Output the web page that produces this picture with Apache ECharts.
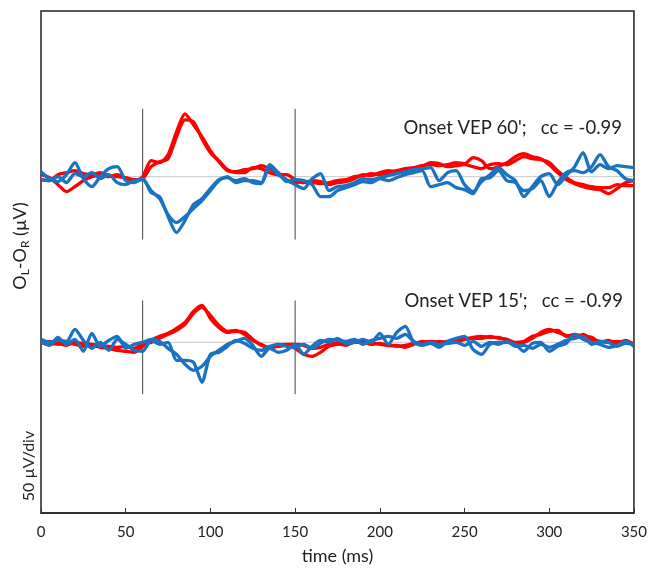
<!DOCTYPE html>
<html>
<head>
<meta charset="utf-8">
<script src="https://cdn.jsdelivr.net/npm/echarts@6/dist/echarts.min.js"></script>
<style>html,body{margin:0;padding:0;background:#fff}#c{width:650px;height:570px}</style>
</head>
<body>
<div id="c"></div>
<script>
// time axis (ms), sampled every 5 ms
var times = [];
for (var t = 0; t <= 350; t += 5) times.push(t);
var xTicks = [0, 50, 100, 150, 200, 250, 300, 350];

// baselines of the two recordings (display units)
var baseTop = 337;   // Onset VEP 60'
var baseBot = 171;   // Onset VEP 15'

// Onset VEP 60' traces (amplitude relative to baseline)
var red60a = [2,-1,-8,-15,-10,-4,0,1,0,2,-2,-5,0,16,14,22,45,63,52,40,26,15,6,5,7,8,11,8,4,-4,-6,-5,-6,-7,-6,-4,-3,0,1,3,2,4,6,8,9,11,12,11,12,14,13,19,16,8,10,14,20,23,20,18,12,4,-3,-7,-10,-12,-13,-17,-12,-6,-4];
var red60b = [-3,-4,2,4,6,3,2,4,1,0,-1,-3,-2,10,15,18,40,57,55,38,24,16,7,4,4,9,8,4,2,2,-3,-6,-4,-5,-8,-6,-5,-2,2,1,4,6,5,7,6,10,14,13,10,11,12,10,8,12,13,12,16,20,18,17,14,6,-1,-6,-8,-10,-11,-11,-8,-9,-9];
var blue60a = [5,-2,-5,2,14,-2,-10,0,8,10,-4,-6,-2,-16,-20,-40,-56,-44,-28,-22,-12,-3,-1,-4,-2,-6,-7,10,2,-3,-8,-12,-2,3,-14,-10,-9,-6,-2,-3,-1,1,3,5,7,8,9,-4,4,6,-8,-15,-5,2,9,2,-4,-20,-10,0,3,-8,1,10,24,5,12,8,11,10,9];
var blue60b = [-3,-4,0,-6,3,0,4,-2,2,-6,-8,-4,-3,-14,-22,-38,-46,-40,-32,-24,-14,-4,0,-6,-4,-4,-6,12,4,-5,-3,-4,-8,-20,-20,-14,-11,-8,-5,-6,-2,-4,-1,2,4,6,-10,-8,-6,-11,-13,-17,-2,-1,6,-4,-6,-14,-12,-4,-20,-6,4,6,4,10,22,10,6,-2,-4];

// Onset VEP 15' traces
var red15a = [-1,1,-2,0,-2,-4,-3,-5,-6,-8,-9,-10,-4,2,6,9,14,20,31,37,24,15,10,11,10,3,-3,-5,-4,-3,-6,-12,-14,-10,-4,-2,-1,1,2,0,-2,-3,-4,-3,-1,0,1,0,1,0,3,5,6,5,5,2,-1,0,4,10,13,10,7,5,8,3,1,0,1,0,-1];
var red15b = [0,-2,-1,-3,0,-1,-2,-3,-4,-5,-4,-6,-2,0,4,8,12,18,29,35,27,17,11,12,8,2,-2,-6,-3,-2,-2,-3,-6,-5,-2,-1,-3,0,0,-2,-1,-3,-3,-5,-2,1,0,1,-1,2,4,4,4,6,4,3,0,1,6,8,11,12,6,8,6,5,0,2,-1,2,-2];
var blue15a = [0,-3,5,-2,3,-9,9,-4,2,6,-6,-2,0,3,1,-6,-12,-22,-28,-24,-14,-8,-2,1,4,-3,-14,-6,-10,-8,-2,-12,-4,2,0,4,-1,0,3,0,9,-2,10,16,0,-3,-1,-5,1,4,6,-7,-12,-2,0,0,-2,-9,-1,0,-9,-4,-1,8,3,0,-2,-5,-3,1,-4];
var blue15b = [3,0,2,1,13,2,-6,0,-8,3,-2,-8,-9,2,-2,0,-18,-18,-20,-40,-12,-10,-4,2,-1,-6,-8,-4,-2,-4,-5,-2,-6,-1,3,2,1,3,-2,2,4,6,4,8,1,-2,0,-2,-1,0,-3,1,-4,0,-2,1,-4,-3,-6,-2,-5,-2,2,4,6,-2,1,0,-4,-1,-2];

// stimulus markers (ms) and their extent around each baseline
var markerTimes = [60, 150];
var markerTop = [68, -63];
var markerBot = [42, -52];

var labels = ["Onset VEP 60';   cc = -0.99", "Onset VEP 15';   cc = -0.99"];

var RED = '#ff0000', BLUE = '#1a73c2';
var FONT = 'Lato';

function trace(arr, base, color, z) {
  return {
    type: 'line', data: times.map(function (t, i) { return [t, base + arr[i]]; }),
    showSymbol: false, smooth: 0.25, z: z, silent: true,
    lineStyle: { color: color, width: 3.3 }
  };
}
function seg(pts, color, z) {
  return { type: 'line', data: pts, showSymbol: false, silent: true, z: z,
    lineStyle: { color: color, width: 1 } };
}

var series = [];
series.push(seg([[0, baseTop], [350, baseTop]], '#c8c8c8', 1));
series.push(seg([[0, baseBot], [350, baseBot]], '#c8c8c8', 1));
markerTimes.forEach(function (m) {
  series.push(seg([[m, baseTop + markerTop[0]], [m, baseTop + markerTop[1]]], '#444', 1));
  series.push(seg([[m, baseBot + markerBot[0]], [m, baseBot + markerBot[1]]], '#444', 1));
});
series.push(trace(red60a, baseTop, RED, 2));
series.push(trace(red60b, baseTop, RED, 2));
series.push(trace(blue60a, baseTop, BLUE, 3));
series.push(trace(blue60b, baseTop, BLUE, 3));
series.push(trace(red15a, baseBot, RED, 2));
series.push(trace(red15b, baseBot, RED, 2));
series.push(trace(blue15a, baseBot, BLUE, 3));
series.push(trace(blue15b, baseBot, BLUE, 3));

var chart = echarts.init(document.getElementById('c'), null, { renderer: 'canvas' });
chart.setOption({
  animation: false,
  backgroundColor: '#fff',
  grid: { left: 41, right: 14, top: 11, bottom: 56, show: true, borderColor: '#222', borderWidth: 1.5, backgroundColor: 'transparent' },
  xAxis: {
    type: 'value', min: 0, max: 350, interval: 50,
    name: 'time (ms)', nameLocation: 'middle', nameGap: 34,
    nameTextStyle: { fontFamily: FONT, fontSize: 18, color: '#222' },
    axisLine: { show: true, lineStyle: { color: '#222', width: 1.5 } },
    axisTick: { show: true, inside: true, length: 5, lineStyle: { color: '#333' } },
    axisLabel: { fontFamily: FONT, fontSize: 15, color: '#222', margin: 12,
      formatter: function (v) { return xTicks.indexOf(v) >= 0 ? String(v) : ''; } },
    splitLine: { show: false }
  },
  yAxis: {
    type: 'value', min: 0, max: 503,
    axisLine: { show: false }, axisTick: { show: false }, axisLabel: { show: false },
    splitLine: { show: false }
  },
  graphic: [
    { type: 'text', right: 28, top: 119, style: { text: labels[0], font: '18.5px ' + FONT, fill: '#222' } },
    { type: 'text', right: 27, top: 292, style: { text: labels[1], font: '18.5px ' + FONT, fill: '#222' } },
    { type: 'text', x: 20, y: 246, rotation: Math.PI / 2,
      style: {
        text: '{b|O}{s|L}{b|-O}{s|R}{b| (µV)}',
        align: 'center', verticalAlign: 'middle',
        rich: {
          b: { fontFamily: FONT, fontSize: 18, fill: '#222', lineHeight: 22, verticalAlign: 'middle' },
          s: { fontFamily: FONT, fontSize: 12, fill: '#222', lineHeight: 22, verticalAlign: 'bottom', padding: [8, 0, 0, 0] }
        }
      } },
    { type: 'text', x: 29, y: 466, rotation: Math.PI / 2,
      style: { text: '50 µV/div', align: 'center', verticalAlign: 'middle', font: '16px ' + FONT, fill: '#222' } }
  ],
  series: series
});
</script>
</body>
</html>
